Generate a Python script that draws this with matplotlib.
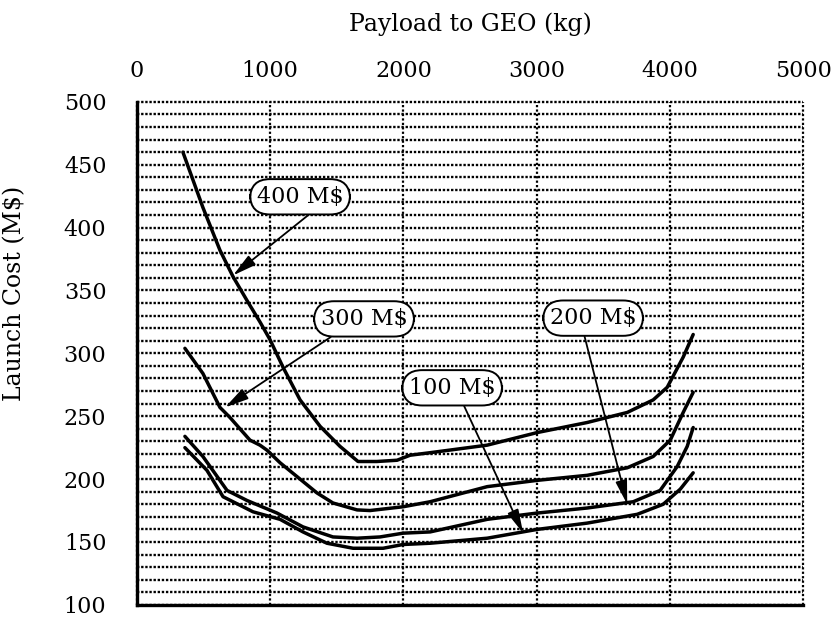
import matplotlib

matplotlib.use('Agg')
import matplotlib.pyplot as plt

plt.rcParams['font.family'] = ['DejaVu Serif']

# 개발비별 곡선: 정지궤도 탑재량(kg) / 발사비용(M$)
payload_400 = [345, 495, 623, 721, 826, 923, 998, 1096, 1224, 1374, 1524, 1659,
               1800, 1952, 2050, 2200, 2628, 3003, 3378, 3679, 3874, 3979, 4099, 4174]
cost_400 = [460, 416, 382, 361, 342, 325, 311, 289, 263, 242, 226, 214,
            214, 215, 219, 221, 227, 237, 245, 253, 263, 273, 297, 315]

payload_300 = [360, 495, 623, 698, 848, 923, 976, 1074, 1201, 1351, 1471, 1652,
               1749, 1997, 2200, 2628, 3003, 3378, 3679, 3874, 4002, 4099, 4174]
cost_300 = [304, 284, 257, 249, 231, 227, 223, 213, 202, 189, 181, 175.5,
            175, 178, 182, 194, 199, 203, 209, 218, 231, 253, 269]

payload_200 = [360, 495, 676, 826, 1051, 1246, 1471, 1652, 1824, 1997, 2200,
               2628, 3003, 3378, 3724, 3926, 4054, 4129, 4174]
cost_200 = [234, 218, 191, 183, 173, 162, 154, 153, 154, 157, 158,
            168, 173, 177, 182, 191, 210, 226, 241]

payload_100 = [360, 525, 646, 871, 1074, 1246, 1426, 1622, 1847, 1997, 2200,
               2628, 3003, 3378, 3754, 3949, 4077, 4174]
cost_100 = [225, 207, 186, 174, 168, 158, 149, 145, 145, 148, 149,
            153, 160, 165, 172, 180, 192, 205]

curve_labels = ['400 M$', '300 M$', '200 M$', '100 M$']


def main():
    fig = plt.figure(figsize=(8.35, 6.21), dpi=100)
    ax = fig.add_axes([0.164, 0.026, 0.798, 0.81])

    curves = [(payload_400, cost_400), (payload_300, cost_300),
              (payload_200, cost_200), (payload_100, cost_100)]
    for xs, ys in curves:
        ax.plot(xs, ys, color='black', lw=2.5, zorder=3,
                solid_joinstyle='round', solid_capstyle='round')

    ax.set_xlim(0, 5000)
    ax.set_ylim(100, 500)
    ax.set_xticks(range(0, 5001, 1000))
    ax.set_yticks(range(100, 501, 50))
    ax.set_yticks(range(100, 501, 10), minor=True)

    # x축은 위쪽
    ax.xaxis.tick_top()
    ax.xaxis.set_label_position('top')
    ax.tick_params(axis='x', which='both', length=0, pad=14, labelsize=16)
    ax.tick_params(axis='y', which='both', length=0, pad=22, labelsize=16)
    ax.set_xlabel('Payload to GEO (kg)', fontsize=17, labelpad=21)
    ax.set_ylabel('Launch Cost (M$)', fontsize=17)
    ax.yaxis.set_label_coords(-0.166, 0.62)

    # 점선 격자
    ax.grid(axis='y', which='both', color='black', lw=1.7, linestyle=(0, (1, 0.75)))
    ax.grid(axis='x', which='major', color='black', lw=1.6, linestyle=(0, (1, 1)))
    ticks = ax.xaxis.get_major_ticks() + ax.yaxis.get_major_ticks() + ax.yaxis.get_minor_ticks()
    for t in ticks:
        t.gridline.set_clip_on(False)

    ax.spines['top'].set_visible(False)
    ax.spines['right'].set_visible(False)
    ax.spines['left'].set_linewidth(2.4)
    ax.spines['bottom'].set_linewidth(2.4)
    ax.spines['left'].set_zorder(4)
    ax.spines['bottom'].set_zorder(4)

    # 곡선 라벨
    box = dict(boxstyle='round,pad=0.3,rounding_size=0.9', fc='white', ec='black', lw=1.4)
    arrow = dict(arrowstyle='-|>,head_length=0.9,head_width=0.22', color='black', lw=1.3,
                 shrinkA=0, shrinkB=0)
    label_pos = [(1224, 424.5), (1704, 327.4), (3423, 328), (2365, 272.6)]
    tip_pos = [(721, 362), (661, 257), (3679, 180), (2898, 157)]
    relpos = [(0.7, 0), (0.24, 0), (0.38, 0), (0.6, 0)]
    for text, lp, tp, rp in zip(curve_labels, label_pos, tip_pos, relpos):
        a = dict(arrow)
        a['relpos'] = rp
        ax.annotate(text, xy=tp, xytext=lp, ha='center', va='center', fontsize=16,
                    bbox=box, arrowprops=a, zorder=5)

    fig.savefig('out.png', dpi=100)


if __name__ == '__main__':
    main()
